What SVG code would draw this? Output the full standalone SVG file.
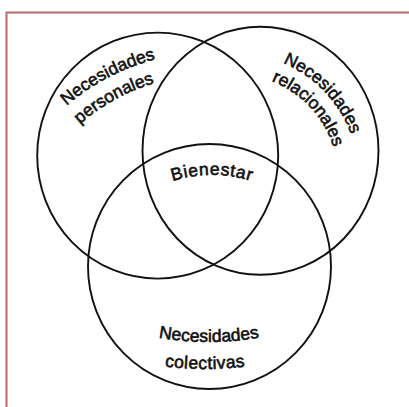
<svg xmlns="http://www.w3.org/2000/svg" xmlns:xlink="http://www.w3.org/1999/xlink" width="409" height="407" viewBox="0 0 409 407">
  <style>
    .ring { fill: none; stroke: #111; stroke-width: 1.9; }
    .lbl { font-family: "Liberation Sans", Arial, sans-serif; font-size: 17.5px; fill: #111; stroke: #111; stroke-width: 0.6; }
    .frame { fill: none; stroke: #b86a6a; stroke-width: 2; }
  </style>
  <defs>
    <path id="p-nec1" d="M24.5,154.8 A221,221 0 0 1 219.6,52.2"/>
    <path id="p-pers" d="M41,170.6 A198,198 0 0 1 214.5,75.1"/>
    <path id="p-nec2" d="M247.6,53.7 A125,125 0 0 1 358.7,170"/>
    <path id="p-rel" d="M246.7,74.8 A104,104 0 0 1 337.9,172.5"/>
    <path id="p-nec3" d="M109.8,324.5 A290,290 0 0 0 308.2,324.5"/>
    <path id="p-col" d="M123,358.2 A317,317 0 0 0 287,358.2"/>
    <path id="p-bien" d="M146.5,192.5 A131,131 0 0 1 277.5,192.5"/>
  </defs>
  <rect class="frame" x="6.5" y="12.5" width="440" height="440"/>
  <g id="personales">
    <ellipse class="ring" cx="157.7" cy="155.6" rx="120.5" ry="123"/>
    <text class="lbl" text-anchor="middle"><textPath xlink:href="#p-nec1" href="#p-nec1" startOffset="50%">Necesidades</textPath></text>
    <text class="lbl" text-anchor="middle"><textPath xlink:href="#p-pers" href="#p-pers" startOffset="50%">personales</textPath></text>
  </g>
  <g id="relacionales">
    <ellipse class="ring" cx="260.5" cy="150.8" rx="118" ry="124"/>
    <text class="lbl" text-anchor="middle"><textPath xlink:href="#p-nec2" href="#p-nec2" startOffset="50%">Necesidades</textPath></text>
    <text class="lbl" text-anchor="middle"><textPath xlink:href="#p-rel" href="#p-rel" startOffset="50%">relacionales</textPath></text>
  </g>
  <g id="colectivas">
    <ellipse class="ring" cx="209.5" cy="266.5" rx="121.5" ry="122.5"/>
    <text class="lbl" text-anchor="middle"><textPath xlink:href="#p-nec3" href="#p-nec3" startOffset="50%">Necesidades</textPath></text>
    <text class="lbl" text-anchor="middle" letter-spacing="0.4"><textPath xlink:href="#p-col" href="#p-col" startOffset="50%">colectivas</textPath></text>
  </g>
  <g id="bienestar">
    <text class="lbl" text-anchor="middle" letter-spacing="0.7"><textPath xlink:href="#p-bien" href="#p-bien" startOffset="50%">Bienestar</textPath></text>
  </g>
</svg>
